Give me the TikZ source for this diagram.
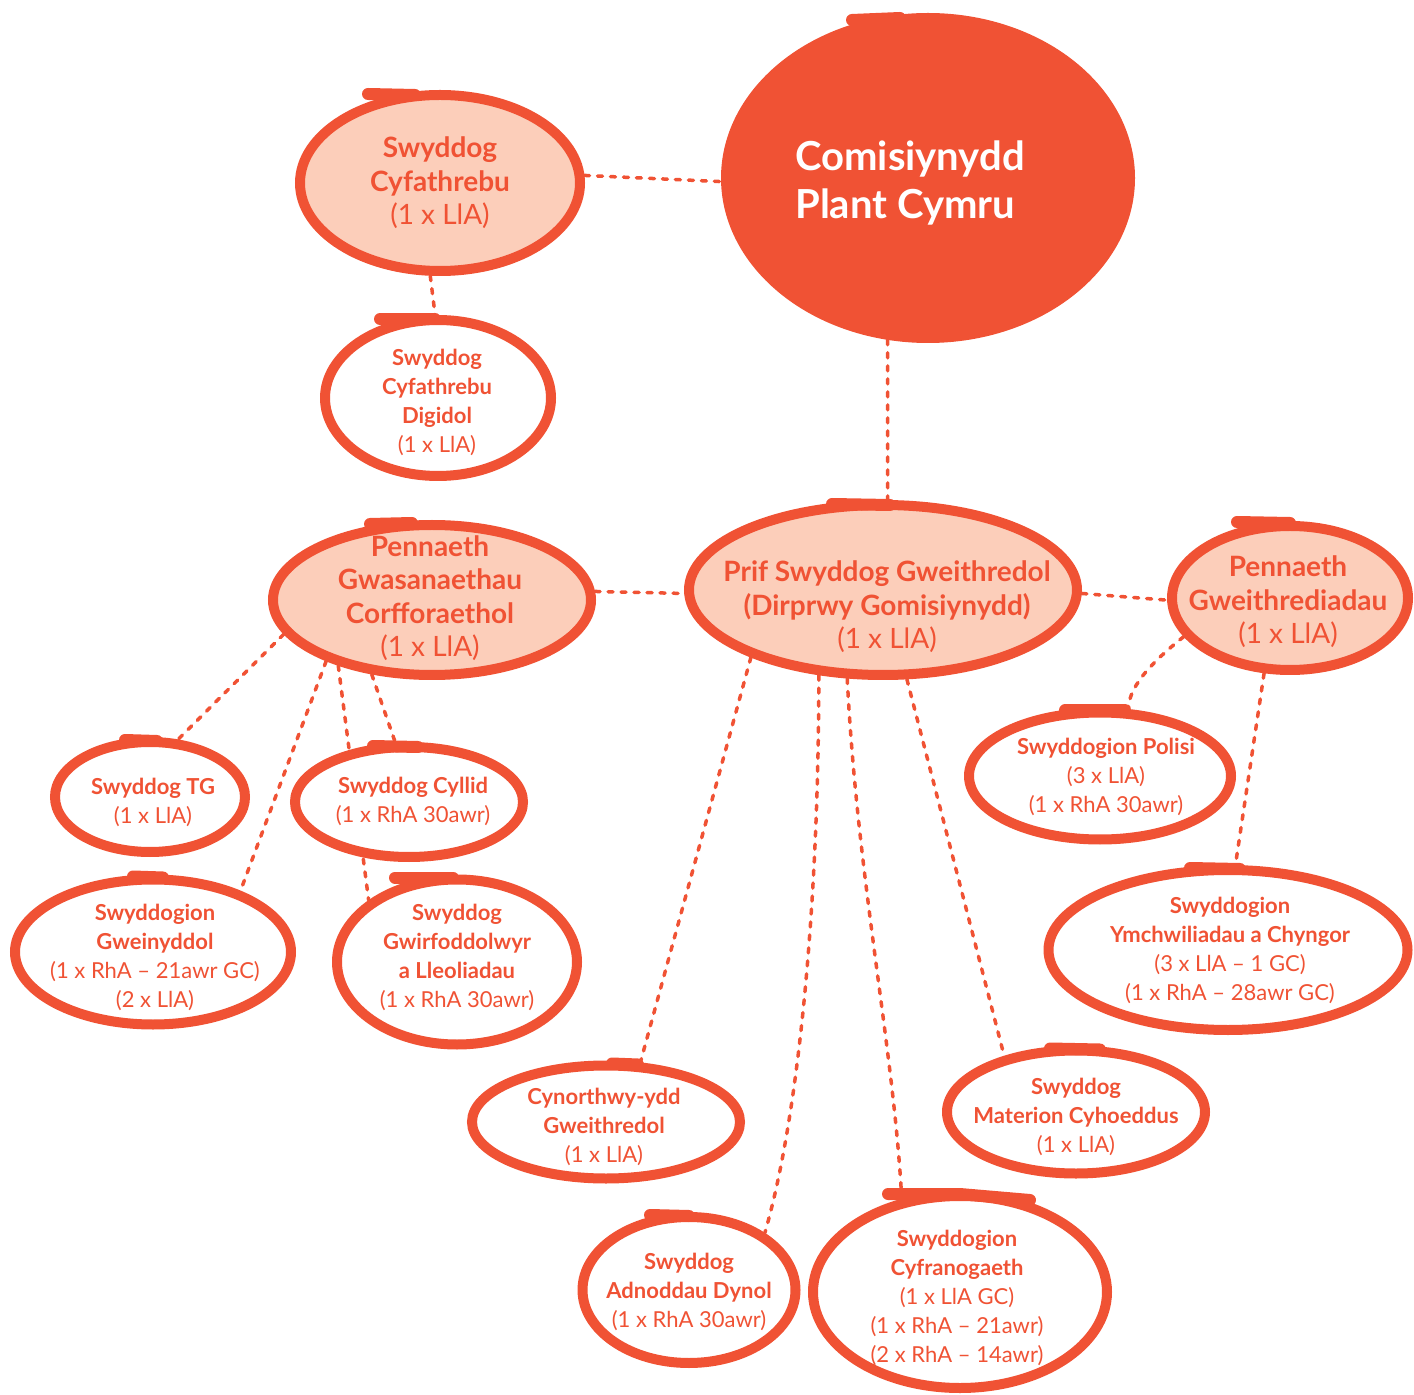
\documentclass[tikz,border=0pt]{standalone}
\usepackage{fontspec}
\setmainfont{Lato}
\usetikzlibrary{shapes.geometric,backgrounds}
\definecolor{ocr}{RGB}{240,82,52}
\definecolor{peach}{RGB}{252,206,186}
\newcommand{\lite}[1]{{\mdseries #1}}
\begin{document}
\begin{tikzpicture}[x=0.5pt,y=-0.5pt,
  box/.style={ellipse, draw=ocr, line width=5pt, fill=white, inner sep=0pt},
  hi/.style={box, fill=peach},
  lbl/.style={text=ocr, align=center, inner sep=0pt},
  bigf/.style={font=\fontsize{14}{16.75}\selectfont\bfseries},
  smf/.style={font=\fontsize{11}{14.5}\selectfont\bfseries},
  conn/.style={draw=ocr, line width=1.75pt, line cap=round, dash pattern=on 2.5pt off 4pt},
  tailst/.style={draw=ocr, line width=6pt, line cap=round}]
\useasboundingbox (0,0) rectangle (1414,1395);

% main blob
\node[ellipse, fill=ocr, draw=ocr, line width=5pt, minimum width=202pt, minimum height=160pt] (com) at (928,178) {};
\node[text=white, font=\fontsize{20}{24}\selectfont\bfseries, align=left] (comt) at (910,183) {Comisiynydd\\Plant Cymru};

% ellipses
\node[hi,minimum width=140pt,minimum height=88pt] (cyf) at (440,183) {};
\node[box,minimum width=113pt,minimum height=78pt] (dig) at (438,398) {};
\node[hi,minimum width=159pt,minimum height=75pt] (pgc) at (432,600) {};
\node[hi,minimum width=194pt,minimum height=85pt] (prif) at (883,590) {};
\node[hi,minimum width=118pt,minimum height=72pt] (pgw) at (1290,598) {};
\node[box,minimum width=95pt,minimum height=55pt] (tg) at (150,797) {};
\node[box,minimum width=114pt,minimum height=55pt] (cyl) at (409,802) {};
\node[box,minimum width=138pt,minimum height=72.5pt] (gwe) at (153,952) {};
\node[box,minimum width=120pt,minimum height=82.5pt] (gwi) at (457,962) {};
\node[box,minimum width=131pt,minimum height=63.5pt] (pol) at (1100,776) {};
\node[box,minimum width=179.5pt,minimum height=80pt] (ymc) at (1228,950) {};
\node[box,minimum width=134pt,minimum height=56.5pt] (cyn) at (606,1122) {};
\node[box,minimum width=129pt,minimum height=61.5pt] (mat) at (1076,1112) {};
\node[box,minimum width=106.5pt,minimum height=73pt] (adn) at (689,1290) {};
\node[box,minimum width=147pt,minimum height=96pt] (cyr) at (960,1292) {};

% texts
\node[lbl,bigf] (cyft) at (440,183) {Swyddog\\Cyfathrebu\\\lite{(1 x LlA)}};
\node[lbl,smf] (digt) at (437,402) {Swyddog\\Cyfathrebu\\Digidol\\\lite{(1 x LlA)}};
\node[lbl,bigf] (pgct) at (430,598) {Pennaeth\\Gwasanaethau\\Corfforaethol\\\lite{(1 x LlA)}};
\node[lbl,bigf] (prift) at (887,607) {Prif Swyddog Gweithredol\\(Dirprwy Gomisiynydd)\\\lite{(1 x LlA)}};
\node[lbl,bigf] (pgwt) at (1288,602) {Pennaeth\\Gweithrediadau\\\lite{(1 x LlA)}};
\node[lbl,smf] (tgt) at (153,802) {Swyddog TG\\\lite{(1 x LlA)}};
\node[lbl,smf] (cylt) at (413,801) {Swyddog Cyllid\\\lite{(1 x RhA 30awr)}};
\node[lbl,smf] (gwet) at (155,957) {Swyddogion\\Gweinyddol\\\lite{(1 x RhA – 21awr GC)}\\\lite{(2 x LlA)}};
\node[lbl,smf] (gwit) at (457,957) {Swyddog\\Gwirfoddolwyr\\a Lleoliadau\\\lite{(1 x RhA 30awr)}};
\node[lbl,smf] (polt) at (1106,777) {Swyddogion Polisi\\\lite{(3 x LlA)}\\\lite{(1 x RhA 30awr)}};
\node[lbl,smf] (ymct) at (1230,950) {Swyddogion\\Ymchwiliadau a Chyngor\\\lite{(3 x LlA – 1 GC)}\\\lite{(1 x RhA – 28awr GC)}};
\node[lbl,smf] (cynt) at (604,1127) {Cynorthwy-ydd\\Gweithredol\\\lite{(1 x LlA)}};
\node[lbl,smf] (matt) at (1076,1117) {Swyddog\\Materion Cyhoeddus\\\lite{(1 x LlA)}};
\node[lbl,smf] (adnt) at (689,1292) {Swyddog\\Adnoddau Dynol\\\lite{(1 x RhA 30awr)}};
\node[lbl,smf] (cyrt) at (957,1298) {Swyddogion\\Cyfranogaeth\\\lite{(1 x LlA GC)}\\\lite{(1 x RhA – 21awr)}\\\lite{(2 x RhA – 14awr)}};

% pen-start tails
\draw[tailst] ([shift={(-76,7)}]com.north) -- ([shift={(-28,5)}]com.north);
\draw[tailst] ([shift={(-72,4)}]cyf.north) -- ([shift={(-25,5)}]cyf.north);
\draw[tailst] ([shift={(-58,4)}]dig.north) -- ([shift={(-3,4)}]dig.north);
\draw[tailst] ([shift={(-62,4)}]pgc.north) -- ([shift={(-20,3)}]pgc.north);
\draw[tailst] ([shift={(-51,4)}]prif.north) -- ([shift={(7,5)}]prif.north);
\draw[tailst] ([shift={(-53,1)}]pgw.north) -- ([shift={(0,2)}]pgw.north);
\draw[tailst] ([shift={(-25,3)}]tg.north) -- ([shift={(7,4)}]tg.north);
\draw[tailst] ([shift={(-36,4)}]cyl.north) -- ([shift={(9,5)}]cyl.north);
\draw[tailst] ([shift={(-20,2)}]gwe.north) -- ([shift={(10,3)}]gwe.north);
\draw[tailst] ([shift={(-62,3)}]gwi.north) -- ([shift={(-4,3)}]gwi.north);
\draw[tailst] ([shift={(-35,3)}]pol.north) -- ([shift={(25,3)}]pol.north);
\draw[tailst] ([shift={(-38,3)}]ymc.north) -- ([shift={(12,4)}]ymc.north);
\draw[tailst] ([shift={(6,3)}]cyn.north) -- ([shift={(32,4)}]cyn.north);
\draw[tailst] ([shift={(-26,3)}]mat.north) -- ([shift={(24,4)}]mat.north);
\draw[tailst] ([shift={(-39,3)}]adn.north) -- ([shift={(0,4)}]adn.north);
\draw[tailst] ([shift={(-72,3)}]cyr.north) -- ([shift={(0,3)}]cyr.north) -- ([shift={(70,9)}]cyr.north);

% connectors
\begin{scope}[on background layer]
\draw[conn] (cyf.3) -- (com.181);
\draw[conn] (cyf.264) -- (dig.92);
\draw[conn] (com.256) -- (prif.87);
\draw[conn] (pgc.3) -- (prif.181);
\draw[conn] (prif.359) -- (pgw.181);
\draw[conn] (pgc.193) -- (tg.64);
\draw[conn] (pgc.210) -- (gwe.35);
\draw[conn] (pgc.215) -- (gwi.145);
\draw[conn] (pgc.231) -- (cyl.103);
\draw[conn] (prif.207) -- (cyn.60);
\draw[conn] (prif.233) .. controls +(0,220) and +(35,-120) .. (adn.37);
\draw[conn] (prif.248) .. controls +(10,200) and +(-8,-150) .. (cyr.122);
\draw[conn] (prif.285) -- (mat.142);
\draw[conn] (pgw.200) .. controls +(-25,20) and +(0,-25) .. (pol.67);
\draw[conn] (pgw.251) -- (ymc.85);
\end{scope}
\end{tikzpicture}
\end{document}
